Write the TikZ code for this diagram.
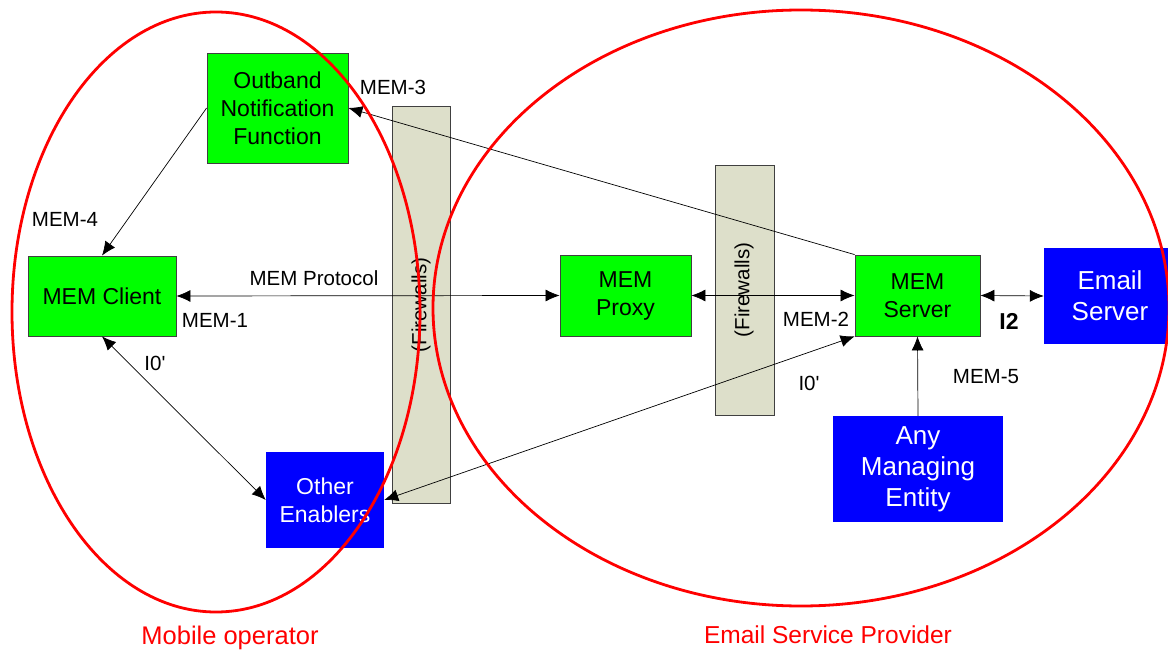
\documentclass[tikz,border=0pt]{standalone}
\usepackage{fontspec}
\setmainfont{Liberation Sans}
\usetikzlibrary{arrows.meta}
\definecolor{fwfill}{RGB}{221,223,202}
\definecolor{mgreen}{RGB}{0,255,0}
\definecolor{mblue}{RGB}{0,0,255}
\definecolor{mred}{RGB}{255,0,0}
\begin{document}
\begin{tikzpicture}[x=1pt,y=-1pt,
  greenbox/.style={draw=black!75, line width=0.8pt, fill=mgreen, align=center, inner sep=0pt,
    font=\fontsize{23}{28}\selectfont},
  bluebox/.style={fill=mblue, text=white, align=center, inner sep=0pt,
    font=\fontsize{26}{31}\selectfont},
  fwall/.style={draw=black!75, line width=0.8pt, fill=fwfill, inner sep=0pt},
  fwtext/.style={rotate=90, font=\fontsize{20.5}{24}\selectfont},
  lbl/.style={font=\fontsize{20.5}{24}\selectfont, inner sep=0pt},
  region/.style={draw=mred, line width=2.8pt},
  regtext/.style={text=mred, font=\fontsize{24.5}{29}\selectfont, inner sep=0pt},
  conn/.style={line width=0.7pt, -{Latex[length=14pt,width=12pt]}},
  bconn/.style={line width=0.7pt, {Latex[length=14pt,width=12pt]}-{Latex[length=14pt,width=12pt]}}]
\useasboundingbox (0,0) rectangle (1168,652);
\fill[white] (0,0) rectangle (1168,652);

% firewalls
\node[fwall, minimum width=58pt, minimum height=397pt] (fw1) at (421,304.5) {};
\node[fwall, minimum width=59pt, minimum height=250pt] (fw2) at (744.5,290) {};
\node[fwtext] (fw1t) at (421,305) {(Firewalls)};
\node[fwtext] (fw2t) at (744,290) {(Firewalls)};

% boxes
\node[greenbox, minimum width=141pt, minimum height=110pt] (onf) at (277.5,108) {Outband\\Notification\\Function};
\node[greenbox, minimum width=148pt, minimum height=80pt] (client) at (102,296) {MEM Client};
\node[greenbox, minimum width=131pt, minimum height=81pt] (proxy) at (625.5,295.5) {MEM\\Proxy};
\node[greenbox, minimum width=125pt, minimum height=81pt] (server) at (917.5,295.5) {MEM\\Server};
\node[bluebox, minimum width=132pt, minimum height=96pt] (email) at (1110,296) {Email\\Server};
\node[bluebox, minimum width=170pt, minimum height=106pt] (ame) at (918,469) {Any\\Managing\\Entity};
\node[bluebox, minimum width=118pt, minimum height=96pt, font=\fontsize{23}{28}\selectfont] (other) at (325,500) {Other\\Enablers};

% connectors
\draw[conn] (onf.west) -- (client.north);
\draw[conn] (server.north west) -- (onf.east);
\draw[bconn] (client.east) -- (proxy.west);
\draw[bconn] (proxy.east) -- (server.west);
\draw[bconn] (server.east) -- (email.west);
\draw[bconn] (client.south) -- (other.west);
\draw[bconn] (other.east) -- (server.south west);
\draw[conn] (ame.north) -- (server.south);

% labels
\node[lbl] (l3) at (393,87) {MEM-3};
\node[lbl] (l4) at (65,219) {MEM-4};
\node[lbl] (lp) at (314,278) {MEM Protocol};
\node[lbl] (l1) at (215,320) {MEM-1};
\node[lbl] (l2) at (816,319) {MEM-2};
\node[lbl] (li0b) at (809,383) {I0\textquotesingle};
\node[lbl, font=\fontsize{23}{28}\selectfont\bfseries] (li2) at (1009,321) {I2};
\node[lbl] (l5) at (986,377) {MEM-5};
\node[lbl] (li0a) at (155,363) {I0\textquotesingle};

% regions
\draw[region] (216,312) ellipse [x radius=204, y radius=300];
\draw[region] (801,308) ellipse [x radius=368, y radius=298];
\node[regtext, font=\fontsize{25.5}{30}\selectfont] (mo) at (230,638) {Mobile operator};
\node[regtext] (esp) at (828,635) {Email Service Provider};
\end{tikzpicture}
\end{document}
